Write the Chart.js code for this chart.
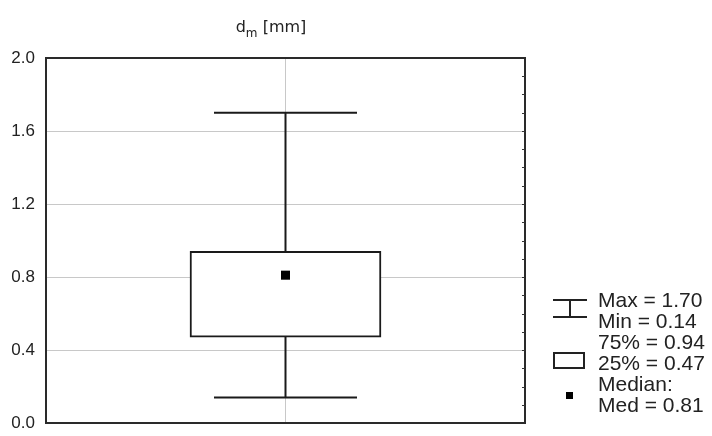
<!DOCTYPE html>
<html>
<head>
<meta charset="utf-8">
<script src="https://cdn.jsdelivr.net/npm/chart.js@4/dist/chart.umd.min.js"></script>
<style>
  html, body { margin: 0; padding: 0; background: #fff; }
  #wrap { position: relative; width: 712px; height: 436px; overflow: hidden; }
  #c { position: absolute; left: 0; top: 0; }
  #title { position: absolute; left: 0; top: 18px; width: 542px; text-align: center;
           font-family: "DejaVu Sans", sans-serif; font-size: 16px; line-height: 18px; color: #222; }
  #title sub { font-size: 12px; vertical-align: -5px; line-height: 0; }
  #legend { position: absolute; left: 598px; top: 289px; font-family: "Liberation Sans", Arial, sans-serif;
            font-size: 21px; line-height: 21px; color: #222; white-space: nowrap; }
  .ic { position: absolute; box-sizing: border-box; }
</style>
</head>
<body>
<div id="wrap">
  <canvas id="c" width="712" height="436"></canvas>
  <div id="title"></div>
  <div class="ic" style="left:553px;top:299px;width:34px;height:2px;background:#222"></div>
  <div class="ic" style="left:569px;top:299px;width:2px;height:18px;background:#222"></div>
  <div class="ic" style="left:553px;top:316px;width:34px;height:2px;background:#222"></div>
  <div class="ic" style="left:553px;top:352px;width:32px;height:17px;border:2px solid #222"></div>
  <div class="ic" style="left:566px;top:392px;width:7px;height:7px;background:#000"></div>
  <div id="legend"></div>
</div>
<script>
const categories = ['d'];
const categoryUnit = ['m', '[mm]'];
const maxVals = [1.70];
const minVals = [0.14];
const q3Vals = [0.94];
const q1Vals = [0.47];
const medVals = [0.81];
const yTicks = [0.0, 0.4, 0.8, 1.2, 1.6, 2.0];
const yTickLabels = ['0.0', '0.4', '0.8', '1.2', '1.6', '2.0'];
const xGridAt = [-1, 0, 1];
const minorStep = 0.1;

document.getElementById('title').innerHTML =
  categories[0] + '<sub>' + categoryUnit[0] + '</sub> ' + categoryUnit[1];

const legendLines = [
  'Max = ' + maxVals[0].toFixed(2),
  'Min = ' + minVals[0].toFixed(2),
  '75% = ' + q3Vals[0].toFixed(2),
  '25% = ' + q1Vals[0].toFixed(2),
  'Median:',
  'Med = ' + medVals[0].toFixed(2)
];
const lg = document.getElementById('legend');
legendLines.forEach(t => { const d = document.createElement('div'); d.textContent = t; lg.appendChild(d); });

const framePlugin = {
  id: 'frame',
  afterDraw(chart) {
    const ctx = chart.ctx, a = chart.chartArea, y = chart.scales.y;
    ctx.save();
    ctx.strokeStyle = '#2a2a2a';
    ctx.lineWidth = 2;
    ctx.strokeRect(a.left, a.top, a.right - a.left, a.bottom - a.top);
    ctx.lineWidth = 1;
    ctx.strokeStyle = '#333';
    ctx.beginPath();
    for (let v = y.min + minorStep; v < y.max - 1e-9; v += minorStep) {
      const py = Math.round(y.getPixelForValue(v)) + 0.5;
      ctx.moveTo(a.right - 3, py);
      ctx.lineTo(a.right, py);
    }
    ctx.stroke();
    ctx.restore();
  }
};

const xs = categories.map((c, i) => i);

new Chart(document.getElementById('c'), {
  type: 'bar',
  data: {
    datasets: [
      {
        type: 'scatter',
        data: xs.map(i => ({ x: i, y: medVals[i] })),
        pointStyle: 'rect', pointRadius: 6.4, backgroundColor: '#000', borderColor: '#000', borderWidth: 0,
        clip: false
      },
      {
        type: 'scatter',
        data: xs.flatMap(i => [{ x: i, y: maxVals[i] }, { x: i, y: minVals[i] }]),
        pointStyle: 'line', pointRadius: 71.5, borderColor: '#1a1a1a', borderWidth: 2,
        clip: false
      },
      {
        type: 'bar',
        data: xs.map(i => ({ x: i, y: [q1Vals[i], q3Vals[i]] })),
        backgroundColor: '#fff', borderColor: '#1a1a1a', borderWidth: 2, borderSkipped: false,
        barThickness: 191
      },
      {
        type: 'line',
        data: xs.map(i => [{ x: i, y: minVals[i] }, { x: i, y: maxVals[i] }]).flat(),
        borderColor: '#1a1a1a', borderWidth: 2, pointRadius: 0, fill: false
      }
    ]
  },
  options: {
    responsive: false,
    animation: false,
    events: [],
    layout: { autoPadding: false, padding: { left: 0, top: 58, right: 187, bottom: 13 } },
    plugins: { legend: { display: false }, tooltip: { enabled: false }, title: { display: false } },
    scales: {
      x: {
        type: 'linear', min: -1, max: 1, offset: false,
        afterBuildTicks(s) { s.ticks = xGridAt.map(v => ({ value: v })); },
        ticks: { display: false },
        grid: { color: '#c8c8c8', lineWidth: 1, drawTicks: false, offset: false },
        border: { display: false },
        afterFit(s) { s.height = 0; s.paddingLeft = 0; s.paddingRight = 0; s.paddingTop = 0; s.paddingBottom = 0; }
      },
      y: {
        min: 0, max: 2,
        afterBuildTicks(s) { s.ticks = yTicks.map(v => ({ value: v })); },
        ticks: {
          callback: (v, i) => yTickLabels[i],
          color: '#222', padding: 11,
          font: { family: '"Liberation Sans", Arial, sans-serif', size: 17 }
        },
        grid: { color: '#c8c8c8', lineWidth: 1, drawTicks: false },
        border: { display: false },
        afterFit(s) { s.width = 46; s.paddingTop = 0; s.paddingBottom = 0; s.paddingLeft = 0; s.paddingRight = 0; }
      }
    }
  },
  plugins: [framePlugin]
});
</script>
</body>
</html>
